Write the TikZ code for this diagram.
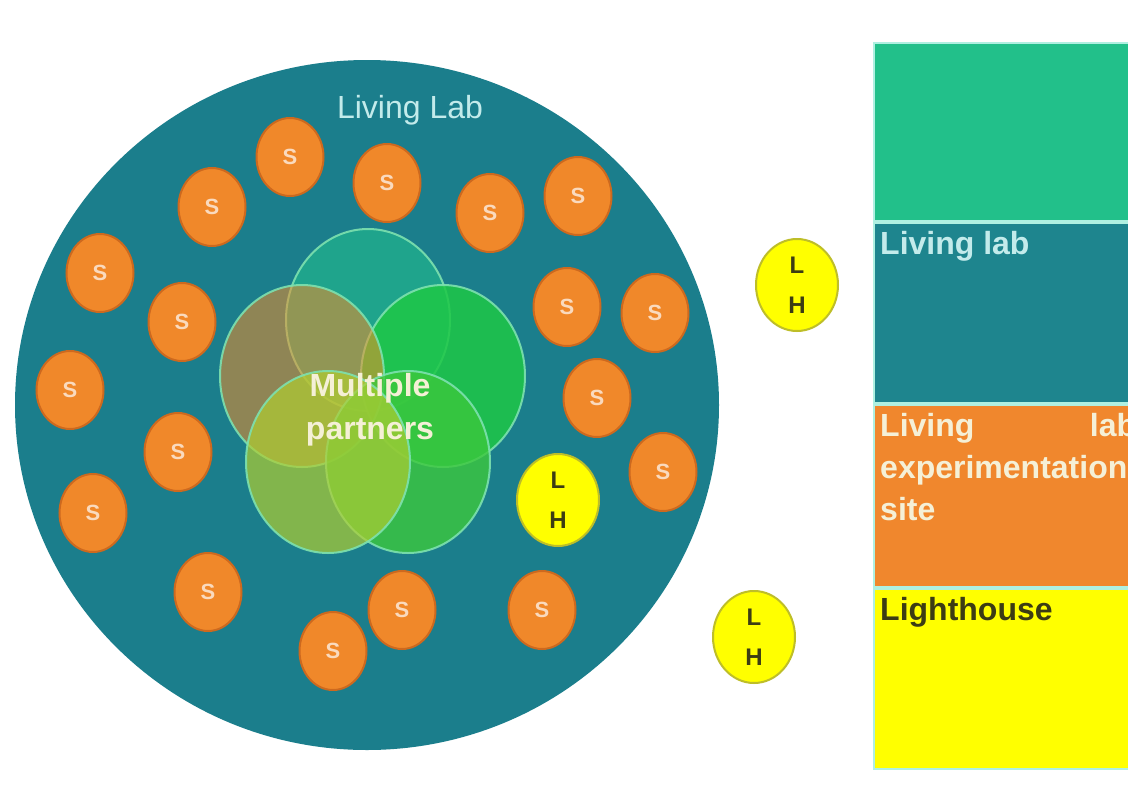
\documentclass[tikz,border=0pt]{standalone}
\usepackage{fontspec}
\setmainfont{Liberation Sans}
\usetikzlibrary{shapes.geometric}

\definecolor{labteal}{RGB}{27,126,140}
\definecolor{labtext}{RGB}{195,235,235}
\definecolor{stakeorange}{RGB}{240,136,42}
\definecolor{stakeedge}{RGB}{205,105,30}
\definecolor{stakefont}{RGB}{250,218,190}
\definecolor{lhyellow}{RGB}{255,255,0}
\definecolor{lhedge}{RGB}{190,190,40}
\definecolor{lhtext}{RGB}{60,60,20}
\definecolor{partneredge}{RGB}{125,225,175}
\definecolor{partnertext}{RGB}{245,240,215}
\definecolor{leggreen}{RGB}{34,192,138}
\definecolor{legteal}{RGB}{30,133,142}
\definecolor{legorange}{RGB}{240,135,45}
\definecolor{legedge}{RGB}{175,240,225}

\tikzset{
  stake/.style={ellipse, draw=stakeedge, line width=2pt, fill=stakeorange, minimum width=67pt, minimum height=78pt, inner sep=0pt, text=stakefont, font=\bfseries\fontsize{22}{22}\selectfont},
  lhouse/.style={ellipse, draw=lhedge, line width=2pt, fill=lhyellow, minimum width=82pt, minimum height=92pt, inner sep=0pt, align=center, text=lhtext, font=\bfseries\fontsize{24}{40}\selectfont},
  partner/.style={ellipse, draw=partneredge, line width=2pt, minimum width=164pt, minimum height=182pt, draw opacity=0.9},
  legbox/.style={rectangle, draw=legedge, line width=1.5pt, minimum width=330pt, anchor=north west, inner sep=0pt},
  legtext/.style={below right, inner sep=0pt, font=\bfseries\fontsize{32}{42}\selectfont}
}

\begin{document}
\begin{tikzpicture}[x=1pt,y=-1pt]
 \useasboundingbox (0,0) rectangle (1128,793);
 \clip (0,0) rectangle (1128,793);
 \fill[white] (0,0) rectangle (1128,793);

 \node[ellipse, fill=labteal, minimum width=704pt, minimum height=690pt, inner sep=0pt] (lab) at (367,405) {};
 \node[font=\fontsize{32}{36}\selectfont, text=labtext] (lablabel) at (410,110) {Living Lab};

 \node[partner, fill={rgb,255:red,35;green,190;blue,140}, fill opacity=0.6] (ptop) at (368,320) {};
 \node[partner, fill={rgb,255:red,30;green,200;blue,70}, fill opacity=0.85] (pright) at (443,376) {};
 \node[partner, fill={rgb,255:red,240;green,140;blue,40}, fill opacity=0.55] (pleft) at (302,376) {};
 \node[partner, fill={rgb,255:red,60;green,200;blue,60}, fill opacity=0.8] (pbright) at (408,462) {};
 \node[partner, fill={rgb,255:red,175;green,205;blue,50}, fill opacity=0.7] (pbleft) at (328,462) {};
 \node[font=\bfseries\fontsize{32}{43}\selectfont, text=partnertext, align=center] (multi) at (370,410) {Multiple\\partners};

 \node[stake] (s1) at (290,157) {S};
 \node[stake] (s2) at (212,207) {S};
 \node[stake] (s3) at (387,183) {S};
 \node[stake] (s4) at (490,213) {S};
 \node[stake] (s5) at (578,196) {S};
 \node[stake] (s6) at (100,273) {S};
 \node[stake] (s7) at (182,322) {S};
 \node[stake] (s8) at (567,307) {S};
 \node[stake] (s9) at (655,313) {S};
 \node[stake] (s10) at (70,390) {S};
 \node[stake] (s11) at (597,398) {S};
 \node[stake] (s12) at (178,452) {S};
 \node[stake] (s13) at (93,513) {S};
 \node[stake] (s14) at (663,472) {S};
 \node[stake] (s15) at (208,592) {S};
 \node[stake] (s16) at (402,610) {S};
 \node[stake] (s17) at (333,651) {S};
 \node[stake] (s18) at (542,610) {S};

 \node[lhouse] (lhin) at (558,500) {L\\H};
 \node[lhouse] (lhtop) at (797,285) {L\\H};
 \node[lhouse] (lhlow) at (754,637) {L\\H};

 \node[legbox, fill=leggreen, minimum height=178pt] (lgreen) at (873,42) {};
 \node[legbox, fill=legteal, minimum height=180pt] (lteal) at (873,222) {};
 \node[legbox, fill=legorange, minimum height=182pt] (lorange) at (873,404) {};
 \node[legbox, fill=lhyellow, minimum height=180pt] (lyellow) at (873,588) {};

 \node[legtext, text=labtext] (tlab) at ([xshift=7pt,yshift=-9pt]lteal.north west) {Living lab};
 \node[legtext, text=partnertext, text width=256pt, align=justify] (tsite) at ([xshift=7pt,yshift=-9pt]lorange.north west) {Living lab \mbox{experimentation} site};
 \node[legtext, text=lhtext] (tlight) at ([xshift=7pt,yshift=-9pt]lyellow.north west) {Lighthouse};

\end{tikzpicture}
\end{document}
